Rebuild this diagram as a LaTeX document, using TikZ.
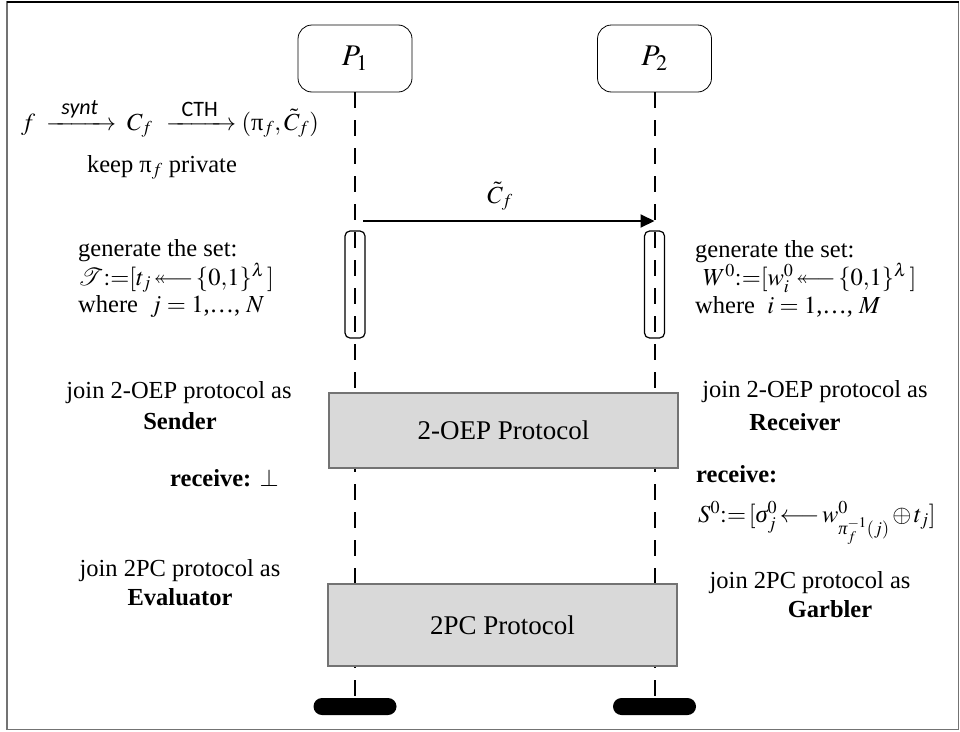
\documentclass[tikz,border=0pt]{standalone}
\usepackage{amsmath,amssymb}
\usepackage{mathptmx}
\usepackage[no-math]{fontspec}
\setmainfont{Liberation Serif}
\newfontfamily\calibfont{Carlito}
\usetikzlibrary{arrows.meta}
\tikzset{
 party/.style={draw, rounded corners=14pt, minimum width=114pt, minimum height=67pt, inner sep=0pt, line width=0.8pt, font=\fontsize{30}{36}\selectfont},
 lifeline/.style={line width=2pt, dash pattern=on 16pt off 12pt},
 actbar/.style={draw, rounded corners=5pt, line width=1.2pt, minimum width=20pt, minimum height=107pt, inner sep=0pt},
 proto/.style={draw=black!55, fill=black!15, line width=1.2pt, inner sep=0pt, font=\fontsize{27}{32}\selectfont},
 endbar/.style={fill=black, rounded corners=8.5pt, minimum width=83pt, minimum height=17pt, inner sep=0pt},
 txt/.style={inner sep=0pt, font=\fontsize{24.5}{29}\selectfont},
 msg/.style={line width=2pt, -{Triangle[length=14pt,width=13pt]}},
}
\newcommand{\lbl}[1]{\text{\calibfont\fontsize{22}{24}\selectfont\makebox[56pt]{#1}}}
\newcommand{\thla}{\twoheadleftarrow\joinrel\relbar}
\newcommand{\isig}{\text{\itshape σ}}
\newcommand{\ipi}{\text{\itshape π}}
\begin{document}
\begin{tikzpicture}[x=1pt,y=-1pt]
\useasboundingbox (0,0) rectangle (960,731);
% frame
\draw[black!55, line width=1.5pt] (7,1.5) rectangle (958.5,729.5);
\draw[line width=2pt] (7,1.5) -- (958.5,1.5);
% parties and end bars
\node[party] (p1) at (355,58.5) {$P_1$};
\node[party] (p2) at (654.5,58.5) {$P_2$};
\node[endbar] (e1) at (355,706.5) {};
\node[endbar] (e2) at (654.5,706.5) {};
\draw[lifeline] (p1.south) -- (e1.center);
\draw[lifeline] (p2.south) -- (e2.center);
% activation bars
\node[actbar] (b1) at (355,284.5) {};
\node[actbar] (b2) at (654.5,284.5) {};
% message
\coordinate (m1) at (363,221);
\coordinate (m2) at (654.5,221);
\draw[msg] (m1) -- (m2);
\node[txt, anchor=base] (ct) at (500,203) {$\tilde{C}_f$};
% protocol boxes
\node[proto, minimum width=349pt, minimum height=75pt] (oep) at (503.5,430.5) {2-OEP Protocol};
\node[proto, minimum width=349pt, minimum height=82pt] (tpc) at (502.5,625) {2PC Protocol};
% left texts
\node[txt, anchor=base west] (form) at (21,130) {$f\;\xrightarrow{\lbl{\itshape synt}}\;C_f\;\,\xrightarrow{\lbl{CTH}}(\text{π}_f,\tilde{C}_f)$};
\node[txt, anchor=base] (keep) at (162,172) {keep $\text{π}_f$ private};
\node[txt, anchor=base west] (lg1) at (78,256) {generate the set:};
\node[txt, anchor=base west] (lg2) at (78,285) {$\mathcal{T}{:=}[t_j\,{\thla}\,\{0{,}1\}^{\lambda}\,]$};
\node[txt, anchor=base west] (lg3) at (78,312) {where\ \ $j = 1$,…, $N$};
\node[txt, anchor=base] (lj1) at (179,398) {join 2-OEP protocol as};
\node[txt, anchor=base] (lj2) at (180,429) {\textbf{Sender}};
\node[txt, anchor=base west] (lr) at (170,486) {\textbf{receive:} $\perp$};
\node[txt, anchor=base] (lk1) at (180,576) {join 2PC protocol as};
\node[txt, anchor=base] (lk2) at (180,605) {\textbf{Evaluator}};
% right texts
\node[txt, anchor=base west] (rg1) at (695,257) {generate the set:};
\node[txt, anchor=base west] (rg2) at (703,285) {$W^0{:=}[w_i^0\,{\thla}\,\{0{,}1\}^{\lambda}\,]$};
\node[txt, anchor=base west] (rg3) at (695,313) {where\ \ $i = 1$,…, $M$};
\node[txt, anchor=base] (rj1) at (815,397) {join 2-OEP protocol as};
\node[txt, anchor=base] (rj2) at (795,430) {\textbf{Receiver}};
\node[txt, anchor=base west] (rr) at (696,482) {\textbf{receive:}};
\node[txt, anchor=base west] (rs) at (698,522) {$S^0{:=}\,[\isig_j^0\,{\longleftarrow}\,w^0_{\ipi_f^{-1}(j)}\,{\oplus}\,t_j]$};
\node[txt, anchor=base] (rk1) at (810,588) {join 2PC protocol as};
\node[txt, anchor=base] (rk2) at (830,617) {\textbf{Garbler}};
\end{tikzpicture}
\end{document}
